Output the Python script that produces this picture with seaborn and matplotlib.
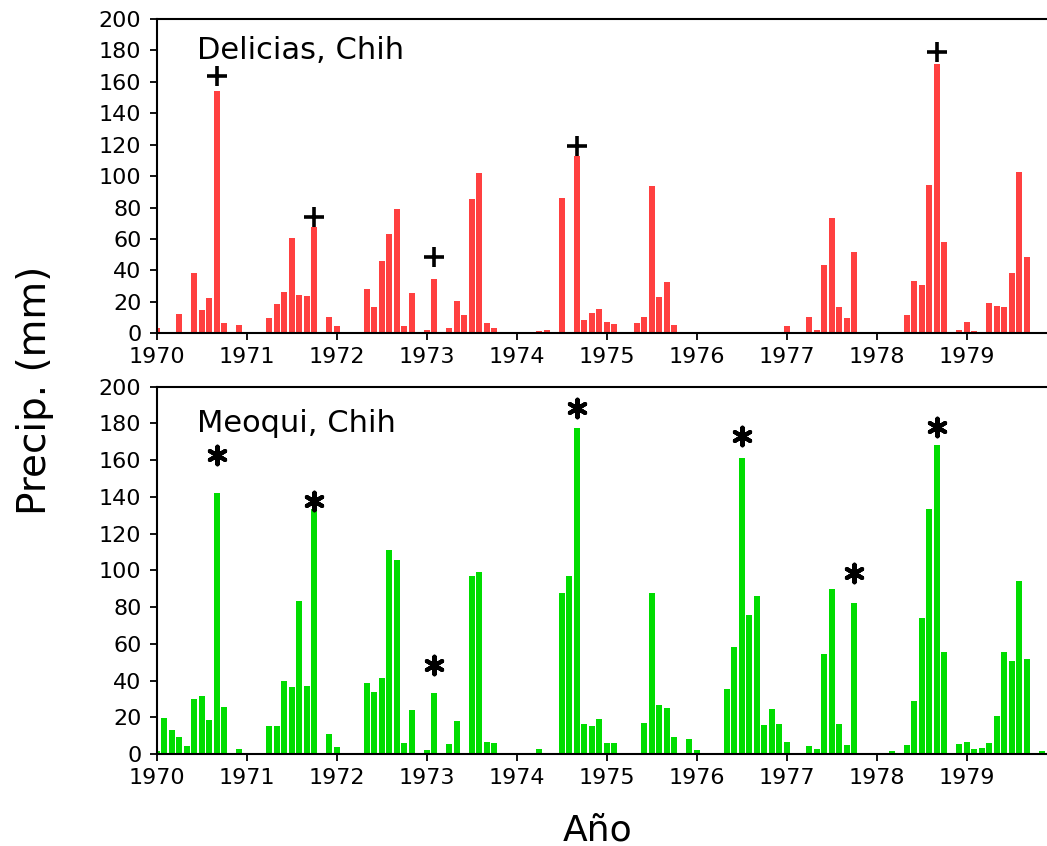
import numpy as np
import pandas as pd
import matplotlib
matplotlib.use("Agg")
import matplotlib.pyplot as plt
import seaborn as sns

# Monthly precipitation (mm), Jan..Dec for each year 1970-1979
years = list(range(1970, 1980))

delicias = [
    # 1970
    3.4, 0, 0, 12.0, 1.0, 38.4, 15.1, 22.7, 154.4, 6.6, 0, 5.5,
    # 1971
    0, 0, 0, 9.8, 18.7, 26.3, 60.7, 24.4, 23.8, 67.7, 0, 10.4,
    # 1972
    4.7, 0, 0, 0, 28.2, 16.8, 46.0, 63.2, 79.1, 4.7, 25.7, 0,
    # 1973
    2.1, 34.6, 0, 3.4, 20.6, 11.7, 85.5, 102.0, 6.6, 3.4, 0, 0,
    # 1974
    0, 0, 0.5, 1.5, 2.1, 0, 86.1, 0, 112.8, 8.5, 12.9, 15.5,
    # 1975
    7.2, 5.9, 0, 0, 6.6, 10.4, 93.7, 23.1, 32.7, 5.3, 0, 0.9,
    # 1976
    0, 0, 0, 0, 0, 0, 0, 0, 0, 0, 0, 0,
    # 1977
    4.7, 0, 0, 10.4, 2.1, 43.5, 73.4, 16.8, 9.8, 51.7, 0, 0,
    # 1978
    0, 0, 0.5, 0.5, 11.7, 33.3, 30.8, 94.4, 171.4, 58.1, 0, 2.1,
    # 1979
    7.2, 1.5, 0.9, 19.3, 17.4, 16.8, 38.4, 102.7, 48.6, 0, 0.5, 0,
]

meoqui = [
    # 1970
    1.8, 19.8, 13.2, 9.4, 4.5, 29.9, 31.8, 18.7, 142.1, 25.6, 0, 2.7,
    # 1971
    0, 0, 0, 15.2, 15.2, 39.7, 36.5, 83.3, 37.0, 133.4, 0, 10.9,
    # 1972
    3.8, 0, 0.5, 0, 38.7, 33.8, 41.4, 111.1, 105.6, 6.0, 24.0, 0,
    # 1973
    2.2, 33.2, 0, 5.4, 18.0, 0, 96.9, 99.1, 6.5, 6.0, 0, 0,
    # 1974
    0, 0, 0.5, 2.7, 0, 0, 87.7, 96.9, 177.5, 16.3, 15.2, 19.1,
    # 1975
    6.0, 6.0, 0, 0, 0, 16.9, 87.7, 26.7, 25.0, 9.3, 0, 8.2,
    # 1976
    2.2, 0, 0, 0, 35.4, 58.3, 161.2, 75.7, 86.0, 15.8, 24.5, 16.3,
    # 1977
    6.5, 0, 0, 4.4, 2.7, 54.4, 89.8, 16.3, 4.9, 82.2, 0, 0,
    # 1978
    0.5, 0.5, 1.6, 0, 4.9, 28.9, 74.0, 133.4, 168.2, 55.5, 0, 5.4,
    # 1979
    6.5, 2.7, 3.3, 6.0, 20.7, 55.5, 50.6, 94.2, 51.7, 0, 1.6, 0,
]

# Flagged months: (year, month index 0-11) and the height of the flag mark
delicias_flag_year = [1970, 1971, 1973, 1974, 1978]
delicias_flag_month = [8, 9, 1, 8, 8]
delicias_flag_y = [163.7, 73.8, 48.6, 119.0, 179.0]

meoqui_flag_year = [1970, 1971, 1973, 1974, 1976, 1977, 1978]
meoqui_flag_month = [8, 9, 1, 8, 6, 9, 8]
meoqui_flag_y = [162.8, 137.9, 48.5, 188.2, 173.3, 98.4, 178.2]

station_names = ["Delicias, Chih", "Meoqui, Chih"]
bar_colors = ["#FF4040", "#00DC00"]

y_ticks = list(range(0, 201, 20))

sns.set_theme(style="ticks", rc={
    "axes.linewidth": 1.5,
    "xtick.major.width": 1.3,
    "ytick.major.width": 1.3,
    "xtick.major.size": 5,
    "ytick.major.size": 5,
    "axes.edgecolor": "black",
    "xtick.color": "black",
    "ytick.color": "black",
    "text.color": "black",
})
plt.rcParams["font.family"] = ["DejaVu Sans"]

time = np.array([y + m / 12.0 for y in years for m in range(12)])

fig = plt.figure(figsize=(10.47, 8.46), dpi=100)
ax_top = fig.add_axes([0.1497, 0.606, 0.8596, 0.3715])
ax_bot = fig.add_axes([0.1497, 0.1087, 0.8596, 0.4342])

panels = [
    (ax_top, delicias, delicias_flag_year, delicias_flag_month, delicias_flag_y, "+"),
    (ax_bot, meoqui, meoqui_flag_year, meoqui_flag_month, meoqui_flag_y, "*"),
]

for i, (ax, values, fy, fm, fv, mark) in enumerate(panels):
    df = pd.DataFrame({"t": time, "precip": values})
    sns.barplot(data=df, x="t", y="precip", native_scale=True, width=0.8,
                color=bar_colors[i], saturation=1, linewidth=0, ax=ax, zorder=1)

    fx = [y + m / 12.0 for y, m in zip(fy, fm)]
    if mark == "+":
        ax.scatter(fx, fv, marker="+", s=220, linewidths=2.6, color="black",
                   zorder=5, clip_on=False)
    else:
        ax.scatter(fx, fv, marker=(6, 2, 0), s=160, linewidths=3.0, color="black",
                   zorder=5, clip_on=False)

    ax.set_xlim(1970, 1980)
    ax.set_ylim(0, 200)
    ax.set_xticks(years)
    ax.set_xticklabels([str(y) for y in years])
    ax.set_yticks(y_ticks)
    ax.set_yticklabels([str(v) for v in y_ticks])
    ax.tick_params(axis="both", direction="out", labelsize=16, pad=5)
    ax.tick_params(axis="y", pad=6)
    ax.set_xlabel("")
    ax.set_ylabel("")
    for side in ["top", "left", "bottom", "right"]:
        ax.spines[side].set_visible(True)
        ax.spines[side].set_color("black")
    ax.text(0.0448, 0.90, station_names[i], transform=ax.transAxes,
            fontsize=22, va="center", ha="left")

fig.text(35 / 1047, 0.539, "Precip. (mm)", rotation=90, fontsize=28,
         ha="center", va="center")
fig.text(598 / 1047, 6 / 846, "Año", fontsize=26, ha="center", va="baseline")

fig.savefig("out.png", dpi=100)
